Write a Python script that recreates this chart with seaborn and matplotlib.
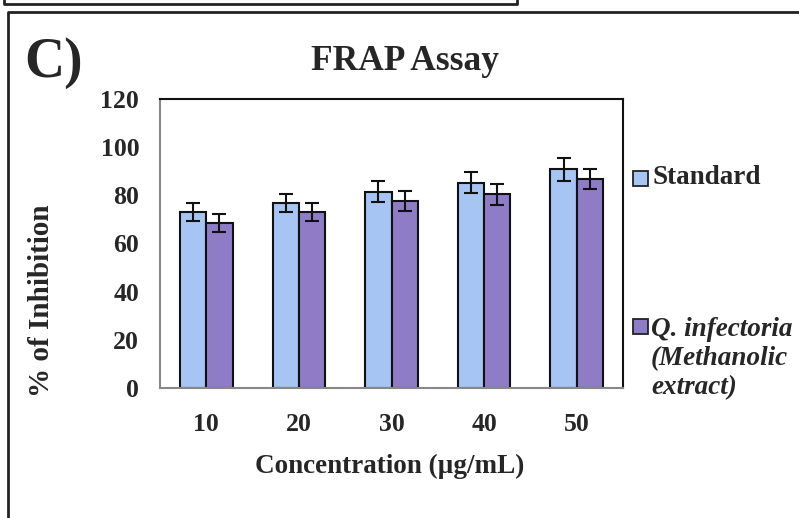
import matplotlib
matplotlib.use("Agg")
import matplotlib.pyplot as plt
import seaborn as sns
import pandas as pd
import numpy as np
from matplotlib.lines import Line2D
from matplotlib.patches import Rectangle

concentrations = ["10", "20", "30", "40", "50"]
series_names = ["Standard", "Q. infectoria (Methanolic extract)"]
standard_vals = [73.0, 76.8, 81.5, 85.3, 90.8]
extract_vals = [68.4, 73.0, 77.7, 80.4, 86.9]
standard_err = [3.8, 3.8, 4.3, 4.4, 4.7]
extract_err = [3.8, 3.7, 4.3, 4.3, 4.2]
yticks = [0, 20, 40, 60, 80, 100, 120]

colors = ["#A7C5F3", "#8E7CC6"]

df = pd.DataFrame({
    "Concentration": concentrations * 2,
    "Value": standard_vals + extract_vals,
    "Series": [series_names[0]] * 5 + [series_names[1]] * 5,
})

sns.set_theme(style="white")
plt.rcParams["font.family"] = ["Liberation Serif", "DejaVu Serif"]

W, H = 799, 518
fig = plt.figure(figsize=(W / 100, H / 100), dpi=100)
ax = fig.add_axes([160 / W, 1 - 388 / H, (623 - 160) / W, (388 - 99) / H])

sns.barplot(data=df, x="Concentration", y="Value", hue="Series",
            order=concentrations, hue_order=series_names,
            palette=colors, saturation=1, width=0.57, errorbar=None,
            edgecolor="#111111", linewidth=1.5, ax=ax, legend=False)

# error bars at the bar centres
errs = standard_err + extract_err
vals = standard_vals + extract_vals
bars = [p for p in ax.patches if isinstance(p, Rectangle)][:10]
for p, v, e in zip(bars, vals, errs):
    cx = p.get_x() + p.get_width() / 2
    ax.errorbar(cx, v, yerr=e, fmt="none", ecolor="#111111",
                elinewidth=1.5, capsize=5, capthick=1.5, zorder=5)

ax.set_ylim(0, 120)
ax.set_xlim(-0.5, 4.5)
ax.set_yticks(yticks)
ax.set_yticklabels([str(t) for t in yticks], fontsize=18.5, fontweight="bold")
ax.set_xticklabels(concentrations, fontsize=18.5, fontweight="bold")
ax.tick_params(axis="y", length=7, width=1, color="#888888", direction="out", pad=8)
ax.tick_params(axis="x", length=0, pad=18)
ax.set_xlabel("Concentration (µg/mL)", fontsize=19.5, fontweight="bold")
ax.set_ylabel("% of Inhibition", fontsize=21, fontweight="bold")
ax.xaxis.set_label_coords((390 - 160) / 463, (388 - 454) / 289)
ax.yaxis.set_label_coords((55 - 160) / 463, (388 - 301) / 289)
ax.yaxis.label.set_va("bottom")

for s in ["left", "bottom"]:
    ax.spines[s].set_color("#888888")
    ax.spines[s].set_linewidth(1.5)
for s in ["top", "right"]:
    ax.spines[s].set_color("#111111")
    ax.spines[s].set_linewidth(1.5)
    ax.spines[s].set_visible(True)

fig.text(405 / W, 1 - 62 / H, "FRAP Assay", ha="center", va="center",
         fontsize=25.5, fontweight="bold")
fig.text(24 / W, 1 - 63 / H, "C)", ha="left", va="center",
         fontsize=40, fontweight="bold")

# legend
fig.patches.append(Rectangle((633 / W, 1 - 186 / H), 15 / W, 15 / H,
                             transform=fig.transFigure, facecolor=colors[0],
                             edgecolor="#222222", linewidth=1.3))
fig.patches.append(Rectangle((633 / W, 1 - 334 / H), 15 / W, 15 / H,
                             transform=fig.transFigure, facecolor=colors[1],
                             edgecolor="#222222", linewidth=1.3))
fig.text(652 / W, 1 - 178 / H, "Standard", ha="left", va="center",
         fontsize=19.5, fontweight="bold")
fig.text(651 / W, 1 - 317 / H, "Q. infectoria\n(Methanolic\nextract)",
         ha="left", va="top", fontsize=19.5, fontweight="bold",
         style="italic", linespacing=1.2)

# panel borders
lk = dict(transform=fig.transFigure, color="#222222", linewidth=2)
fig.lines.append(Line2D([4 / W, 4 / W, 517 / W, 517 / W],
                        [1.0, 1 - 4 / H, 1 - 4 / H, 1.0], **lk))
fig.lines.append(Line2D([8 / W, 8 / W, 1.0], [0.0, 1 - 12 / H, 1 - 12 / H], **lk))

fig.savefig("out.png", dpi=100)
